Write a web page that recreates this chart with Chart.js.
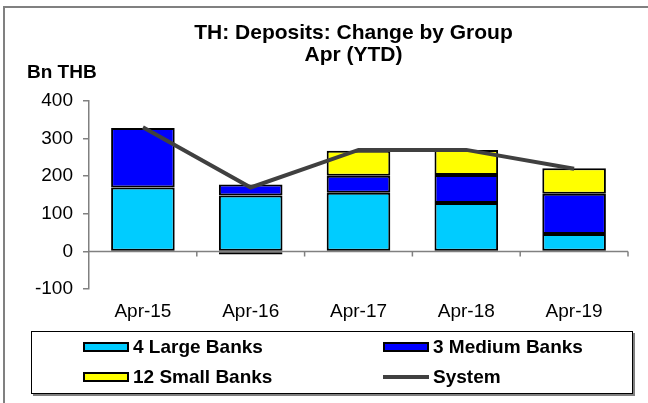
<!DOCTYPE html>
<html>
<head>
<meta charset="utf-8">
<script src="https://cdn.jsdelivr.net/npm/chart.js@4"></script>
<style>
    body { margin: 0; background: #fff; }
    #wrap { position: relative; width: 648px; height: 403px; overflow: hidden; font-family: "Liberation Sans", Arial, sans-serif; }
    #frame { position: absolute; left: 3px; top: 6px; width: 700px; height: 500px; border-top: 2px solid #808080; border-left: 2px solid #808080; }
    canvas { position: absolute; left: 0; top: 0; }
    #legend {
        position: absolute; left: 31px; top: 331px; width: 600px; height: 61px;
        border: 1px solid #000; box-shadow: 2px 2px 0 #808080; background: #fff;
        display: grid; grid-template-columns: 300px 300px; grid-template-rows: 30px 30px;
        align-items: center; box-sizing: content-box;
    }
    .item { padding-left: 51px; display: flex; align-items: center; font-weight: bold; font-size: 19px; color: #000; white-space: nowrap; }
    .sw { display: inline-block; width: 46px; height: 10px; box-sizing: border-box; border: 2px solid #000; margin-right: 4px; }
    .sw.line { height: 4px; border: none; }
</style>
</head>
<body>
<div id="wrap">
    <div id="frame"></div>
    <canvas id="chart" width="648" height="403"></canvas>
    <div id="legend"></div>
</div>
<script>
const categories = ["Apr-15", "Apr-16", "Apr-17", "Apr-18", "Apr-19"];
const largeBanks = [170, 149, 156, 129, 46];
const mediumBanks = [158, 29, 45, 74, 107];
const smallBanks = [0, -8, 67, 67, 68];
const system = [330, 170, 270, 270, 220];

const FONT = '"Liberation Sans", Arial, sans-serif';
Chart.defaults.font.family = FONT;
Chart.defaults.color = "#000";

// zero line with category ticks, title and unit label
const decor = {
    id: "decor",
    beforeDatasetsDraw(chart) {
        const { ctx, chartArea, scales: { x, y } } = chart;
        const y0 = y.getPixelForValue(0);
        const half = (x.getPixelForValue(1) - x.getPixelForValue(0)) / 2;
        ctx.save();
        ctx.strokeStyle = "#808080";
        ctx.lineWidth = 1.5;
        ctx.beginPath();
        ctx.moveTo(chartArea.left, y0);
        ctx.lineTo(chartArea.right, y0);
        categories.forEach((c, i) => {
            const px = x.getPixelForValue(i) + half;
            ctx.moveTo(px, y0);
            ctx.lineTo(px, y0 + 5);
        });
        ctx.stroke();
        ctx.restore();
    },
    afterDraw(chart) {
        const { ctx, chartArea } = chart;
        const cx = (chartArea.left + chartArea.right) / 2 - 5;
        ctx.save();
        ctx.fillStyle = "#000";
        ctx.textAlign = "center";
        ctx.textBaseline = "middle";
        ctx.font = "bold 21px " + FONT;
        ctx.fillText("TH: Deposits: Change by Group", cx, 33);
        ctx.fillText("Apr (YTD)", cx, 55);
        ctx.textAlign = "left";
        ctx.font = "bold 19px " + FONT;
        ctx.fillText("Bn THB", 27, 73);
        ctx.restore();
    }
};

const chart = new Chart(document.getElementById("chart"), {
    type: "bar",
    data: {
        labels: categories,
        datasets: [
            {
                label: "4 Large Banks",
                data: largeBanks,
                backgroundColor: "#00CCFF",
                stack: "banks",
                order: 1
            },
            {
                label: "3 Medium Banks",
                data: mediumBanks,
                backgroundColor: "#0000FF",
                stack: "banks",
                order: 1
            },
            {
                label: "12 Small Banks",
                data: smallBanks,
                backgroundColor: "#FFFF00",
                stack: "banks",
                order: 1
            },
            {
                label: "System",
                type: "line",
                data: system,
                borderColor: "#404040",
                backgroundColor: "#404040",
                borderWidth: 4,
                pointRadius: 0,
                tension: 0,
                stack: "system",
                order: 0
            }
        ]
    },
    options: {
        responsive: false,
        animation: false,
        events: [],
        datasets: {
            bar: {
                borderColor: "#000",
                borderWidth: 2,
                borderSkipped: false,
                categoryPercentage: 1,
                barPercentage: 0.59
            }
        },
        layout: { padding: { left: 9, right: 20, top: 101, bottom: 0 } },
        plugins: {
            legend: { display: false },
            tooltip: { enabled: false }
        },
        scales: {
            x: {
                stacked: true,
                offset: true,
                grid: { display: false, drawTicks: false },
                border: { display: false },
                ticks: { font: { size: 19 }, padding: 11 },
                afterFit: (s) => { s.height = 114; }
            },
            y: {
                stacked: true,
                min: -100,
                max: 400,
                ticks: { stepSize: 100, font: { size: 19 }, padding: 10 },
                grid: { drawOnChartArea: false, drawTicks: true, tickLength: 6, color: "#808080", lineWidth: 1.5 },
                border: { color: "#808080", width: 1.5 },
                afterFit: (s) => { s.width = 80; }
            }
        }
    },
    plugins: [decor]
});

// html legend laid out in two columns like the original
const legendEl = document.getElementById("legend");
chart.data.datasets.forEach((ds) => {
    const item = document.createElement("div");
    item.className = "item";
    const sw = document.createElement("span");
    sw.className = ds.type === "line" ? "sw line" : "sw";
    sw.style.backgroundColor = ds.backgroundColor;
    item.appendChild(sw);
    item.appendChild(document.createTextNode(ds.label));
    legendEl.appendChild(item);
});
</script>
</body>
</html>
